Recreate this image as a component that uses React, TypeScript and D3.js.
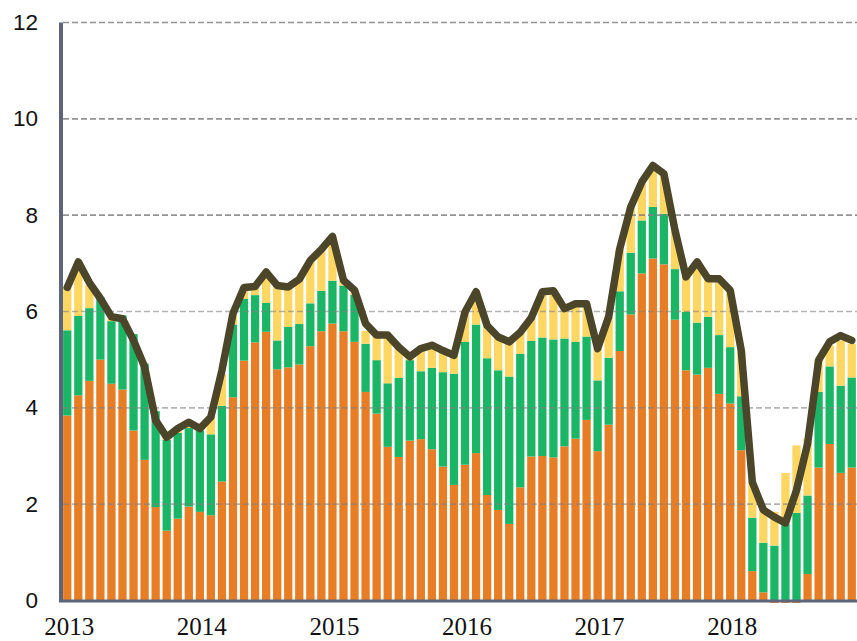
import React from 'react';
import * as d3 from 'd3';

const years = ['2013', '2014', '2015', '2016', '2017', '2018'];
const yTicks = [0, 2, 4, 6, 8, 10, 12];

const orangeVals = [
  3.84, 4.26, 4.56, 5.0, 4.5, 4.38, 3.53, 2.92, 1.94, 1.45, 1.7, 1.95,
  1.84, 1.77, 2.47, 4.22, 4.98, 5.36, 5.58, 4.8, 4.84, 4.9, 5.28, 5.59,
  5.75, 5.59, 5.37, 4.33, 3.88, 3.19, 2.98, 3.32, 3.35, 3.14, 2.78, 2.4,
  2.82, 3.06, 2.19, 1.88, 1.59, 2.35, 2.99, 3.0, 2.97, 3.2, 3.36, 3.75,
  3.1, 3.65, 5.18, 5.94, 6.79, 7.1, 6.98, 5.83, 4.78, 4.69, 4.83, 4.29,
  4.09, 3.12, 0.61, 0.17, -0.05, -0.05, -0.05, 0.55, 2.76, 3.25, 2.65, 2.76,
];
const greenVals = [
  1.77, 1.65, 1.51, 1.3, 1.3, 1.54, 2.0, 2.0, 1.99, 1.89, 1.78, 1.63,
  1.69, 1.68, 1.57, 1.51, 1.28, 0.98, 0.6, 0.6, 0.84, 0.84, 0.89, 0.84,
  0.89, 0.95, 0.98, 1.0, 1.11, 1.32, 1.64, 1.67, 1.41, 1.69, 1.96, 2.31,
  2.55, 2.67, 2.84, 2.9, 3.06, 2.77, 2.4, 2.46, 2.45, 2.24, 2.01, 1.73,
  1.47, 1.39, 1.24, 1.28, 1.1, 1.07, 1.05, 1.05, 1.21, 1.08, 1.06, 1.22,
  1.17, 1.12, 1.11, 1.03, 1.14, 1.59, 1.82, 1.63, 1.57, 1.61, 1.81, 1.87,
];
const yellowVals = [
  0.89, 0.95, 0.48, 0.0, 0.05, 0.0, 0.0, 0.0, 0.0, 0.04, 0.07, 0.1,
  0.04, 0.36, 0.66, 0.23, 0.24, 0.18, 0.64, 1.14, 0.83, 0.93, 0.89, 0.86,
  0.92, 0.11, 0.09, 0.27, 0.51, 1.0, 0.64, 0.07, 0.47, 0.47, 0.45, 0.38,
  0.62, 0.68, 0.68, 0.69, 0.72, 0.45, 0.48, 0.95, 1.01, 0.62, 0.79, 0.68,
  0.66, 0.85, 0.88, 0.95, 0.8, 0.86, 0.83, 0.81, 0.73, 1.26, 0.79, 1.17,
  1.18, 0.95, 0.74, 0.68, 0.7, 1.06, 1.4, 1.18, 0.66, 0.44, 0.94, 0.7,
];
const totalLine = [
  6.5, 7.03, 6.6, 6.27, 5.89, 5.85, 5.4, 4.85, 3.74, 3.39, 3.57, 3.7,
  3.57, 3.81, 4.78, 5.96, 6.5, 6.52, 6.82, 6.54, 6.51, 6.67, 7.06, 7.29,
  7.56, 6.65, 6.44, 5.75, 5.51, 5.51, 5.26, 5.06, 5.23, 5.3, 5.19, 5.09,
  5.99, 6.41, 5.71, 5.47, 5.37, 5.57, 5.87, 6.41, 6.43, 6.06, 6.16, 6.16,
  5.23, 5.89, 7.3, 8.17, 8.69, 9.03, 8.86, 7.69, 6.72, 7.03, 6.68, 6.68,
  6.44, 5.19, 2.46, 1.88, 1.73, 1.61, 2.29, 3.25, 4.99, 5.37, 5.5, 5.4,
];

const seriesKeys = ['orange', 'green', 'yellow'];
const seriesColors: Record<string, string> = {
  orange: '#E77E25',
  green: '#1BB665',
  yellow: '#FED762',
};

export default function App() {
  const W = 857;
  const H = 641;
  const left = 62;
  const right = 857;
  const bottom = 600.5;
  const top = 22.5;

  const months = orangeVals.map((_, i) => i);
  const table = months.map((i) => ({
    orange: orangeVals[i],
    green: greenVals[i],
    yellow: yellowVals[i],
  }));

  const x = d3
    .scaleBand<number>()
    .domain(months)
    .range([left, right])
    .paddingInner(0.25)
    .paddingOuter(0.1);
  const y = d3.scaleLinear().domain([0, 12]).range([bottom, top]);
  const bw = x.bandwidth();

  const stack = d3
    .stack<any>()
    .keys(seriesKeys)
    .offset(d3.stackOffsetDiverging);
  const layers = stack(table);

  const line = d3
    .line<number>()
    .x((_, i) => (x(i) as number) + bw / 2)
    .y((d) => y(d));

  const axisColor = '#5E657B';

  return (
    <svg
      width={W}
      height={H}
      style={{ position: 'absolute', left: 0, top: 0, background: '#fff' }}
    >
      {layers.map((layer) => (
        <g key={layer.key} fill={seriesColors[layer.key]}>
          {layer.map((d, i) => {
            const y0 = y(d[0]);
            const y1 = y(d[1]);
            return (
              <rect
                key={i}
                x={x(i)}
                y={Math.min(y0, y1)}
                width={bw}
                height={Math.abs(y0 - y1)}
              />
            );
          })}
        </g>
      ))}
      {yTicks
        .filter((t) => t > 0)
        .map((t) => (
          <line
            key={t}
            x1={left + 1}
            x2={right}
            y1={y(t)}
            y2={y(t)}
            stroke="#808080"
            strokeWidth={1.6}
            strokeDasharray="6,3"
            strokeOpacity={t >= 8 ? 0.85 : 0.6}
          />
        ))}
      <path
        d={line(totalLine) || ''}
        fill="none"
        stroke="#4B452A"
        strokeWidth={7.5}
        strokeLinejoin="round"
        strokeLinecap="round"
      />
      <line x1={61} x2={61} y1={top} y2={602} stroke={axisColor} strokeWidth={4} />
      <line x1={59} x2={right} y1={601} y2={601} stroke={axisColor} strokeWidth={3} />
      {yTicks.map((t) => (
        <text
          key={t}
          x={38}
          y={y(t)}
          textAnchor="end"
          dominantBaseline="central"
          fontFamily="'Liberation Sans', Arial, sans-serif"
          fontSize={22.5}
          fill="#111"
        >
          {t}
        </text>
      ))}
      {years.map((yr, k) => (
        <text
          key={yr}
          x={(x(k * 12) as number) + bw / 2 + 2}
          y={635}
          textAnchor="middle"
          fontFamily="'Liberation Serif', 'Times New Roman', serif"
          fontSize={25}
          fill="#111"
        >
          {yr}
        </text>
      ))}
    </svg>
  );
}
